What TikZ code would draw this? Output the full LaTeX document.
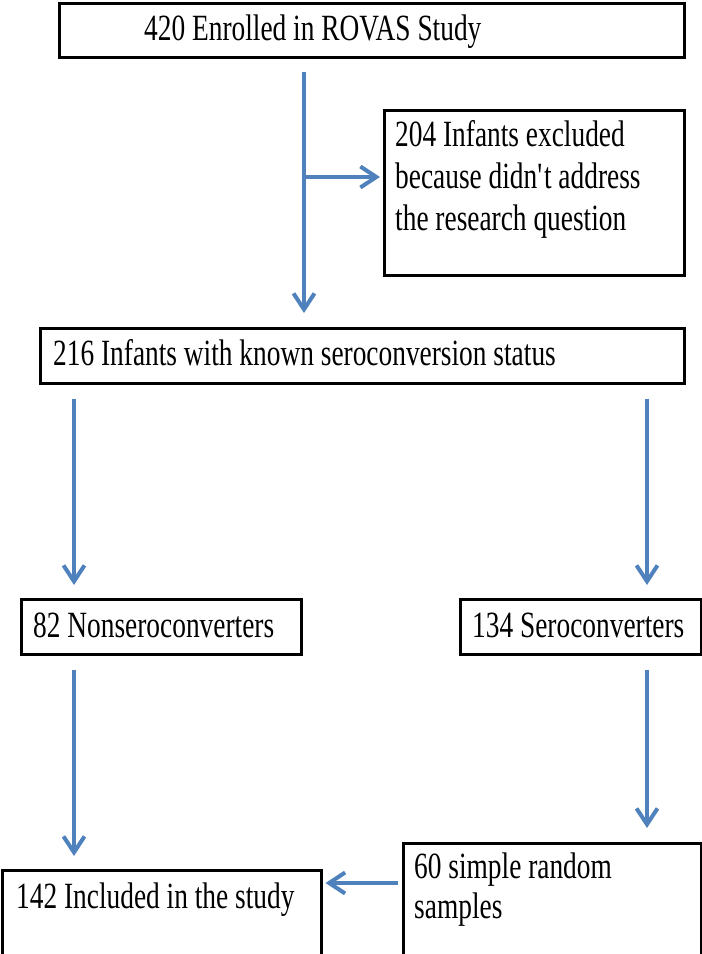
\documentclass[tikz,border=0pt]{standalone}
\usepackage{fontspec}
\setmainfont[FakeStretch=0.74]{Liberation Serif}
\usetikzlibrary{arrows.meta}
\definecolor{arrblue}{HTML}{4F81BD}
\begin{document}
\begin{tikzpicture}[x=1pt,y=-1pt,
  box/.style={draw=black, line width=2.5pt, inner sep=0pt, anchor=north west},
  txt/.style={inner sep=0pt, font=\fontsize{37}{42}\selectfont},
  arr/.style={draw=arrblue, line width=4pt, -{Straight Barb[length=16pt,width=21pt]}},
]
\useasboundingbox (0,0) rectangle (702,954);
% boxes
\node[box, minimum width=625pt, minimum height=54pt]  (n420) at (58,2) {};
\node[box, minimum width=300pt, minimum height=165pt] (excl) at (383,109) {};
\node[box, minimum width=644pt, minimum height=55pt]  (b216) at (39,327) {};
\node[box, minimum width=280pt, minimum height=55pt]  (b82)  at (20,598) {};
\node[box, minimum width=241pt, minimum height=55pt]  (b134) at (459,598) {};
\node[box, minimum width=319pt, minimum height=85pt]  (b142) at (1,869) {};
\node[box, minimum width=298pt, minimum height=112pt] (b60)  at (402,842) {};
% texts
\node[txt, anchor=base west] (t420) at (144,40) {420 Enrolled in ROVAS Study};
\node[txt, anchor=north west, align=left] (texcl) at (395,120) {204 Infants excluded\\because didn\textquotesingle t address\\the research question};
\node[txt, anchor=base west] (t216) at (53,365) {216 Infants with known seroconversion status};
\node[txt, anchor=base west] (t82) at (33,637) {82 Nonseroconverters};
\node[txt, anchor=base west] (t134) at (472,637) {134 Seroconverters};
\node[txt, anchor=base west] (t142) at (16,908) {142 Included in the study};
\node[txt, anchor=north west, align=left, font=\fontsize{37}{40}\selectfont] (t60) at (414,853) {60 simple random\\samples};
% connectors
\coordinate (cx1) at (304,0);
\coordinate (cxl) at (74,0);
\coordinate (cxr) at (647,0);
\coordinate (j1) at (304,177);
\coordinate (jy) at (0,883);
\draw[arr, shorten <=13pt, shorten >=14pt] (n420.south -| cx1) -- (b216.north -| cx1);
\draw[arr, shorten >=3pt] (j1) -- (j1 -| excl.west);
\draw[arr, shorten <=14pt, shorten >=13pt] (b216.south -| cxl) -- (b82.north -| cxl);
\draw[arr, shorten <=14pt, shorten >=13pt] (b216.south -| cxr) -- (b134.north -| cxr);
\draw[arr, shorten <=14pt, shorten >=13pt] (b82.south -| cxl) -- (b142.north -| cxl);
\draw[arr, shorten <=14pt, shorten >=14pt] (b134.south -| cxr) -- (b60.north -| cxr);
\draw[arr, shorten <=4pt, shorten >=3pt] (b60.west |- jy) -- (b142.east |- jy);
\end{tikzpicture}
\end{document}
